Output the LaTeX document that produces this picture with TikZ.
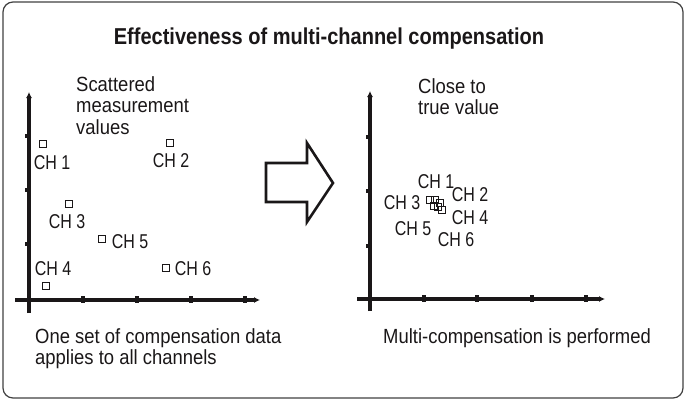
\documentclass[tikz,border=0pt]{standalone}
\usepackage{fontspec}
\setmainfont{Liberation Sans}[FakeStretch=0.9]
\newfontfamily\titlefont{Liberation Sans}[FakeStretch=0.87]
\newfontfamily\chfont{Liberation Sans}[FakeStretch=0.8]
\usetikzlibrary{arrows.meta}
\definecolor{ink}{HTML}{1A1718}
\tikzset{
  axis/.style={line width=3.5pt, draw=ink, -{Latex[length=6pt,width=6pt]}},
  tick/.style={line width=3.5pt, draw=ink},
  sqa/.style={draw=ink, line width=1.2pt, minimum size=6.5pt, inner sep=0pt},
  sqb/.style={draw=ink, line width=1.3pt, minimum size=7pt, inner sep=0pt},
  lbl/.style={font=\chfont\fontsize{20}{22}\selectfont, text=ink, inner sep=0pt},
  txt/.style={font=\fontsize{20.5}{21.5}\selectfont, text=ink, inner sep=0pt, align=left, anchor=north west},
  bigarrow/.style={draw=ink, line width=2.6pt, line join=miter, fill=white},
}
\begin{document}
\begin{tikzpicture}[x=1pt,y=-1pt]
\useasboundingbox (0,0) rectangle (685,400);
\draw[black!75, line width=1.2pt, rounded corners=10pt] (3,2) rectangle (683,398);
\node[font=\titlefont\bfseries\fontsize{23}{26}\selectfont, text=ink, anchor=base, inner sep=0pt] (title) at (329,44) {Effectiveness of multi-channel compensation};

% left axes
\coordinate (ly0) at (29,313); \coordinate (ly1) at (29,92);
\coordinate (lx0) at (15,300); \coordinate (lx1) at (260,300);
\draw[axis] (ly0) -- (ly1);
\draw[axis] (lx0) -- (lx1);
\foreach \y in {136,190,244} \draw[tick] (25,\y) -- (30,\y);
\foreach \x in {83,137,191,245} \draw[tick] (\x,296) -- (\x,303);

% right axes
\coordinate (ry0) at (370,311); \coordinate (ry1) at (370,91);
\coordinate (rx0) at (357,299); \coordinate (rx1) at (605,299);
\draw[axis] (ry0) -- (ry1);
\draw[axis] (rx0) -- (rx1);
\foreach \y in {137,191,246} \draw[tick] (366,\y) -- (371,\y);
\foreach \x in {424,477,532,586} \draw[tick] (\x,295) -- (\x,302);

% left points
\node[sqa] (a1) at (43,144) {};
\node[sqa] (a2) at (170,143) {};
\node[sqa] (a3) at (69,204) {};
\node[sqa] (a5) at (102,239) {};
\node[sqa] (a4) at (46,286) {};
\node[sqa] (a6) at (166,268) {};
\node[lbl] (la1) at (52,163) {CH 1};
\node[lbl] (la2) at (171,161) {CH 2};
\node[lbl] (la3) at (67,222) {CH 3};
\node[lbl] (la5) at (130,242) {CH 5};
\node[lbl] (la4) at (53,269) {CH 4};
\node[lbl] (la6) at (193,269) {CH 6};

% right points
\node[sqb] (b3) at (430,200) {};
\node[sqb] (b1) at (435,200) {};
\node[sqb] (b5) at (434,206) {};
\node[sqb] (b2) at (440,203) {};
\node[sqb] (b4) at (438,207) {};
\node[sqb] (b6) at (442,210) {};
\node[lbl] (lb1) at (436,182) {CH 1};
\node[lbl] (lb2) at (470,195) {CH 2};
\node[lbl] (lb3) at (402,203) {CH 3};
\node[lbl] (lb4) at (470,218) {CH 4};
\node[lbl] (lb5) at (413,229) {CH 5};
\node[lbl] (lb6) at (456,240) {CH 6};

% texts
\node[txt] (t1) at (76,76) {Scattered\\measurement\\values};
\node[txt] (t2) at (418,78) {Close to\\true value};
\node[txt] (t3) at (35,328) {One set of compensation data\\applies to all channels};
\node[txt] (t4) at (383,328) {Multi-compensation is performed};

% big arrow
\draw[bigarrow] (266,163) -- (307,163) -- (307,143) -- (333,183) -- (307,222) -- (307,202) -- (266,202) -- cycle;
\end{tikzpicture}
\end{document}
